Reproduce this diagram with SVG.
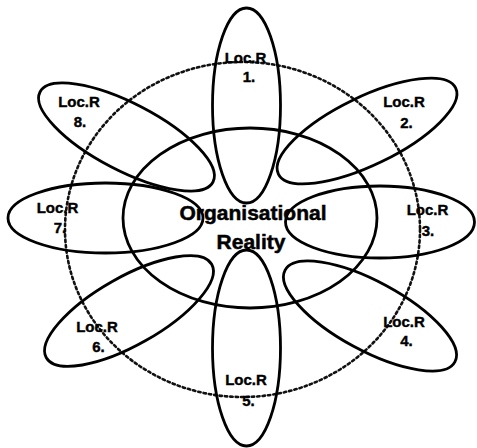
<svg xmlns="http://www.w3.org/2000/svg" width="477" height="448" viewBox="0 0 477 448">
<style>
.ln{fill:none;stroke:#000;stroke-width:2.8}
.dot{fill:none;stroke:#111;stroke-width:2.6;stroke-dasharray:2.4 3;stroke-linecap:round}
.lb{font-family:"Liberation Sans",Arial,sans-serif;font-weight:bold;font-size:15px;fill:#000;stroke:#000;stroke-width:0.4;text-anchor:middle}
.big{font-family:"Liberation Sans",Arial,sans-serif;font-weight:bold;font-size:21px;fill:#000;stroke:#000;stroke-width:0.5;text-anchor:middle}
</style>
<rect width="477" height="448" fill="#fff"/>
<g id="boundary">
<ellipse class="dot" cx="242.5" cy="229.5" rx="177.5" ry="167.5"/>
</g>
<g id="core">
<ellipse class="ln" cx="250" cy="218" rx="127" ry="90"/>
<text class="big" x="253" y="220">Organisational</text>
<text class="big" x="251" y="249">Reality</text>
</g>
<g id="loc1">
<ellipse class="ln" cx="246.5" cy="105.5" rx="97.5" ry="34" transform="rotate(90 246.5 105.5)"/>
<text class="lb" x="245.5" y="62.5">Loc.R</text>
<text class="lb" x="249" y="82">1.</text>
</g>
<g id="loc2">
<ellipse class="ln" cx="367" cy="131" rx="98.5" ry="34" transform="rotate(-25.9 367 131)"/>
<text class="lb" x="404" y="106.5">Loc.R</text>
<text class="lb" x="406.5" y="128">2.</text>
</g>
<g id="loc3">
<ellipse class="ln" cx="380" cy="222" rx="94.5" ry="36"/>
<text class="lb" x="427.5" y="215">Loc.R</text>
<text class="lb" x="428" y="236">3.</text>
</g>
<g id="loc4">
<ellipse class="ln" cx="370" cy="316" rx="96.5" ry="34.5" transform="rotate(28.4 370 316)"/>
<text class="lb" x="404" y="326.5">Loc.R</text>
<text class="lb" x="406.5" y="346">4.</text>
</g>
<g id="loc5">
<ellipse class="ln" cx="246.5" cy="348" rx="98" ry="34" transform="rotate(90 246.5 348)"/>
<text class="lb" x="246" y="385">Loc.R</text>
<text class="lb" x="248.5" y="406">5.</text>
</g>
<g id="loc6">
<ellipse class="ln" cx="129" cy="311" rx="95" ry="34" transform="rotate(150.5 129 311)"/>
<text class="lb" x="97" y="331.5">Loc.R</text>
<text class="lb" x="98.5" y="351.5">6.</text>
</g>
<g id="loc7">
<ellipse class="ln" cx="105.5" cy="218" rx="97.5" ry="35"/>
<text class="lb" x="57.5" y="213">Loc.R</text>
<text class="lb" x="60" y="233">7.</text>
</g>
<g id="loc8">
<ellipse class="ln" cx="126.5" cy="137" rx="97.5" ry="33.5" transform="rotate(27.5 126.5 137)"/>
<text class="lb" x="79" y="107">Loc.R</text>
<text class="lb" x="80" y="127">8.</text>
</g>
<g id="connectors"/>
</svg>
